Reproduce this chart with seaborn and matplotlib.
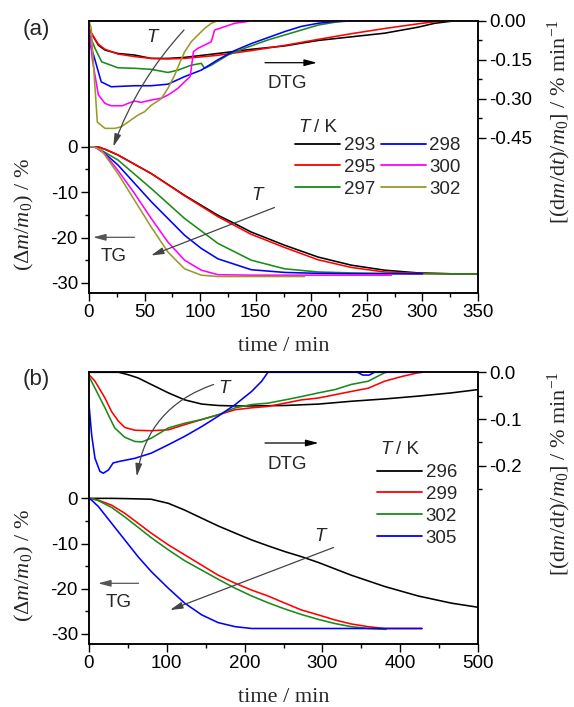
import numpy as np
import pandas as pd
import matplotlib
matplotlib.use("Agg")
import matplotlib.pyplot as plt
import seaborn as sns
from matplotlib.patches import FancyArrowPatch, ArrowStyle
from matplotlib.lines import Line2D
from matplotlib.ticker import FixedLocator, FormatStrFormatter, MultipleLocator

# ---------------- data : panel (a) ----------------
temps_a = ["293", "295", "297", "298", "300", "302"]
colors_a = ["#000000", "#ff0000", "#1a8a1a", "#0000ff", "#ff00ff", "#9a9a2a"]

# TG (a)
tg_a_t_293 = [0, 8, 15, 26, 56, 86, 116, 131, 146, 176, 206, 236, 266, 296, 326, 350]
tg_a_v_293 = [0, 0, -0.6, -1.8, -5.9, -10.7, -15.1, -16.9, -18.8, -21.7, -24.3, -26.1, -27.2, -27.8, -28.0, -28.0]
tg_a_t_295 = [0, 8, 15, 26, 56, 86, 116, 146, 176, 206, 236, 266, 296, 326, 350]
tg_a_v_295 = [0, 0, -0.6, -1.8, -5.9, -10.8, -15.4, -19.3, -22.2, -24.9, -26.6, -27.6, -27.9, -28.0, -28.0]
tg_a_t_297 = [0, 5, 12, 26, 56, 86, 116, 146, 176, 206, 236, 266, 296, 350]
tg_a_v_297 = [0, 0, -0.9, -2.9, -9.2, -15.8, -21.3, -25.0, -26.9, -27.6, -27.8, -27.9, -28.0, -28.0]
tg_a_t_298 = [0, 5, 12, 26, 56, 86, 101, 116, 146, 176, 206, 236, 300]
tg_a_v_298 = [0, 0, -1.0, -4.0, -12.1, -19.5, -22.4, -24.7, -27.1, -27.7, -27.9, -28.0, -28.0]
tg_a_t_300 = [0, 5, 14, 26, 41, 56, 71, 86, 101, 116, 146, 176, 272]
tg_a_v_300 = [0, 0, -1.5, -5.2, -10.3, -15.8, -21.0, -25.0, -27.2, -28.2, -28.3, -28.3, -28.3]
tg_a_t_302 = [0, 4, 11, 26, 41, 56, 71, 86, 101, 116, 146, 194]
tg_a_v_302 = [0, 0, -0.7, -5.9, -11.8, -17.7, -23.2, -26.9, -28.3, -28.6, -28.6, -28.6]

# DTG (a)
dtg_a_t_293 = [0, 2.4, 8.4, 14.4, 26, 41, 56, 71, 86, 116, 146, 176, 206, 236, 266, 296, 311, 326, 350]
dtg_a_v_293 = [-0.03, -0.05, -0.094, -0.113, -0.126, -0.132, -0.145, -0.145, -0.141, -0.126, -0.110, -0.097,
               -0.076, -0.062, -0.048, -0.025, -0.010, -0.002, 0.0]
dtg_a_t_295 = [0, 2.4, 8.4, 14.4, 26, 41, 56, 71, 86, 116, 146, 176, 206, 236, 266, 296, 311, 326, 350]
dtg_a_v_295 = [-0.03, -0.05, -0.09, -0.11, -0.128, -0.138, -0.145, -0.147, -0.145, -0.133, -0.115, -0.095,
               -0.072, -0.05, -0.03, -0.012, -0.004, 0.0, 0.0]
dtg_a_t_297 = [0, 5.4, 11.4, 26, 41, 56, 71, 80, 92, 101, 104, 110, 125, 140, 161, 176, 191, 206, 221, 236, 350]
dtg_a_v_297 = [-0.05, -0.106, -0.158, -0.181, -0.183, -0.187, -0.199, -0.19, -0.171, -0.164, -0.183, -0.171,
               -0.132, -0.106, -0.074, -0.055, -0.036, -0.017, -0.006, 0.0, 0.0]
dtg_a_t_298 = [0, 4, 11, 20, 41, 56, 71, 86, 101, 116, 131, 146, 161, 176, 191, 206, 221, 236, 300]
dtg_a_v_298 = [-0.08, -0.13, -0.235, -0.254, -0.25, -0.25, -0.244, -0.215, -0.19, -0.15, -0.115, -0.088,
               -0.065, -0.042, -0.022, -0.01, -0.003, 0.0, 0.0]
dtg_a_t_300 = [0, 3, 8.4, 14.4, 20, 30, 35, 41, 47, 56, 65, 71, 80, 86, 91, 94, 98, 104, 110, 113, 131, 146, 272]
dtg_a_v_300 = [-0.02, -0.15, -0.285, -0.318, -0.327, -0.327, -0.318, -0.309, -0.314, -0.305, -0.298, -0.286,
               -0.26, -0.235, -0.215, -0.119, -0.106, -0.094, -0.081, -0.036, -0.01, -0.001, 0.0]
dtg_a_t_302 = [0, 2, 4.5, 7.5, 14.4, 23, 29, 35, 44, 50, 56, 65, 71, 77, 82, 86, 92, 98, 104, 110, 116, 194]
dtg_a_v_302 = [0, -0.03, -0.2, -0.39, -0.414, -0.414, -0.408, -0.39, -0.363, -0.35, -0.325, -0.3, -0.26,
               -0.21, -0.158, -0.12, -0.081, -0.055, -0.03, -0.01, 0.0, 0.0]

# ---------------- data : panel (b) ----------------
temps_b = ["296", "299", "302", "305"]
colors_b = ["#000000", "#ff0000", "#1a8a1a", "#0000ff"]

tg_b_t_296 = [0, 30, 59, 80, 102, 123, 145, 166, 188, 209, 230, 252, 273, 295, 337, 380, 423, 466, 500]
tg_b_v_296 = [0, 0, -0.1, -0.2, -1.1, -2.6, -4.4, -6.1, -7.7, -9.2, -10.5, -11.8, -12.9, -14.2, -17.0,
              -19.5, -21.6, -23.2, -24.1]
tg_b_t_299 = [0, 5, 12, 29, 46, 63, 80, 102, 123, 145, 166, 188, 209, 230, 252, 273, 295, 316, 337, 359, 380, 428]
tg_b_v_299 = [0, -0.1, -0.4, -1.5, -3.3, -5.5, -7.7, -10.3, -12.5, -14.8, -17.0, -18.8, -20.3, -21.6,
              -23.2, -24.7, -25.8, -26.9, -27.8, -28.4, -28.8, -28.8]
tg_b_t_302 = [0, 5, 12, 29, 46, 63, 80, 102, 123, 145, 166, 188, 209, 230, 252, 273, 295, 316, 337, 359, 382]
tg_b_v_302 = [0, -0.15, -0.5, -2.0, -4.1, -6.4, -8.7, -11.4, -13.8, -15.9, -17.9, -19.9, -21.6, -23.1,
              -24.5, -25.7, -26.8, -27.7, -28.4, -28.8, -29.0]
tg_b_t_305 = [0, 3.4, 12, 29, 46, 63, 80, 102, 123, 145, 166, 188, 209, 230, 428]
tg_b_v_305 = [0, -0.4, -1.8, -5.5, -9.2, -12.9, -16.2, -19.9, -23.2, -25.8, -27.5, -28.4, -28.8, -28.8, -28.8]

dtg_b_t_296 = [0, 38, 50, 63, 80, 102, 123, 145, 166, 188, 209, 252, 295, 337, 380, 423, 466, 500]
dtg_b_v_296 = [0, 0, -0.005, -0.012, -0.026, -0.044, -0.059, -0.068, -0.071, -0.072, -0.072, -0.071,
               -0.068, -0.062, -0.057, -0.051, -0.044, -0.037]
dtg_b_t_299 = [0, 7.7, 20.5, 29, 38, 46, 59, 80, 102, 123, 145, 166, 188, 209, 230, 252, 273, 295, 316,
               337, 359, 380, 402, 423, 428]
dtg_b_v_299 = [-0.005, -0.019, -0.055, -0.084, -0.105, -0.118, -0.124, -0.125, -0.123, -0.112, -0.101,
               -0.091, -0.080, -0.076, -0.073, -0.066, -0.059, -0.055, -0.048, -0.041, -0.034, -0.019,
               -0.009, -0.001, 0.0]
dtg_b_t_302 = [0, 7.7, 20.5, 33, 46, 59, 68, 80, 102, 123, 145, 166, 188, 209, 230, 252, 273, 295, 316,
               337, 359, 367, 380, 382]
dtg_b_v_302 = [-0.009, -0.034, -0.076, -0.119, -0.139, -0.148, -0.149, -0.141, -0.119, -0.109, -0.101,
               -0.091, -0.076, -0.069, -0.066, -0.059, -0.052, -0.044, -0.037, -0.026, -0.019, -0.012,
               -0.001, 0.0]
dtg_b_t_305 = [0, 3.4, 7.7, 14, 18.4, 25, 31, 38, 59, 80, 102, 123, 145, 166, 188, 209, 222, 230, 345,
               352, 360, 367, 428]
dtg_b_v_305 = [-0.069, -0.134, -0.184, -0.212, -0.216, -0.209, -0.194, -0.191, -0.184, -0.173, -0.155,
               -0.137, -0.116, -0.094, -0.069, -0.041, -0.019, 0.0, 0.0, -0.006, -0.006, 0.0, 0.0]

tg_a = {"293": (tg_a_t_293, tg_a_v_293), "295": (tg_a_t_295, tg_a_v_295), "297": (tg_a_t_297, tg_a_v_297),
        "298": (tg_a_t_298, tg_a_v_298), "300": (tg_a_t_300, tg_a_v_300), "302": (tg_a_t_302, tg_a_v_302)}
dtg_a = {"293": (dtg_a_t_293, dtg_a_v_293), "295": (dtg_a_t_295, dtg_a_v_295), "297": (dtg_a_t_297, dtg_a_v_297),
         "298": (dtg_a_t_298, dtg_a_v_298), "300": (dtg_a_t_300, dtg_a_v_300), "302": (dtg_a_t_302, dtg_a_v_302)}
tg_b = {"296": (tg_b_t_296, tg_b_v_296), "299": (tg_b_t_299, tg_b_v_299), "302": (tg_b_t_302, tg_b_v_302),
        "305": (tg_b_t_305, tg_b_v_305)}
dtg_b = {"296": (dtg_b_t_296, dtg_b_v_296), "299": (dtg_b_t_299, dtg_b_v_299), "302": (dtg_b_t_302, dtg_b_v_302),
         "305": (dtg_b_t_305, dtg_b_v_305)}


def to_df(series):
    rows = []
    for k, (t, v) in series.items():
        for a, b in zip(t, v):
            rows.append((k, a, b))
    return pd.DataFrame(rows, columns=["T", "time", "value"])


# ---------------- style ----------------
sns.set_theme(style="ticks")
plt.rcParams.update({
    "font.family": ["Liberation Sans", "DejaVu Sans"],
    "mathtext.fontset": "custom",
    "mathtext.rm": "Liberation Serif",
    "mathtext.it": "Liberation Serif:italic",
    "mathtext.bf": "Liberation Serif:bold",
    "axes.unicode_minus": False,
    "axes.linewidth": 1.1,
    "axes.edgecolor": "black",
    "xtick.color": "black",
    "ytick.color": "black",
})

FS = 13.5
W, H = 574, 707
fig = plt.figure(figsize=(W / 100, H / 100), dpi=100)


def fx(x):
    return x / W


def fy(y):
    return 1 - y / H


def make_axes(top, bottom):
    left, right = 89, 478
    ax = fig.add_axes([fx(left), fy(bottom), (right - left) / W, (bottom - top) / H])
    ax2 = ax.twinx()
    return ax, ax2


def style_axes(ax, ax2):
    for a in (ax, ax2):
        a.tick_params(which="major", direction="out", length=6, width=1.0, labelsize=FS, pad=2)
        a.tick_params(which="minor", direction="out", length=3, width=1.0)
        for s in a.spines.values():
            s.set_visible(True)
            s.set_linewidth(1.1)
            s.set_color("black")
    ax.tick_params(axis="x", top=False, which="both")
    ax2.tick_params(axis="x", top=False, bottom=False, which="both")


def draw(ax, series, temps, colors):
    df = to_df(series)
    sns.lineplot(data=df, x="time", y="value", hue="T", hue_order=temps,
                 palette=dict(zip(temps, colors)), estimator=None, sort=False,
                 lw=1.15, legend=False, ax=ax)
    ax.set_xlabel("")
    ax.set_ylabel("")


def arrow(p1, p2, rad=0.0, color="#333333", lw=0.9, hl=0.95, hw=0.25):
    a = FancyArrowPatch(posA=(fx(p1[0]), fy(p1[1])), posB=(fx(p2[0]), fy(p2[1])),
                        transform=fig.transFigure,
                        arrowstyle=ArrowStyle("-|>", head_length=hl, head_width=hw),
                        mutation_scale=8, lw=lw, color=color,
                        connectionstyle=f"arc3,rad={rad}", shrinkA=0, shrinkB=0)
    fig.add_artist(a)


def txt(x, y, s, **kw):
    fig.text(fx(x), fy(y), s, ha="center", va="center", fontsize=FS, **kw)


serif = ["Liberation Serif", "DejaVu Serif"]

# ---------------- panel (a) ----------------
axA, axA2 = make_axes(20.7, 293.3)
draw(axA, tg_a, temps_a, colors_a)
draw(axA2, dtg_a, temps_a, colors_a)
style_axes(axA, axA2)
axA.set_xlim(0, 350)
axA.set_ylim(-32.3, 27.8)
axA2.set_ylim(-1.048, 0)
axA.xaxis.set_major_locator(MultipleLocator(50))
axA.xaxis.set_minor_locator(MultipleLocator(25))
axA.yaxis.set_major_locator(FixedLocator([-30, -20, -10, 0]))
axA.yaxis.set_minor_locator(FixedLocator([-25, -15, -5]))
axA.yaxis.set_major_formatter(FormatStrFormatter("%d"))
axA2.yaxis.set_major_locator(FixedLocator([-0.45, -0.30, -0.15, 0.0]))
axA2.yaxis.set_minor_locator(FixedLocator([-0.375, -0.225, -0.075]))
axA2.yaxis.set_major_formatter(FormatStrFormatter("%.2f"))

# ---------------- panel (b) ----------------
axB, axB2 = make_axes(372.3, 644.3)
draw(axB, tg_b, temps_b, colors_b)
draw(axB2, dtg_b, temps_b, colors_b)
style_axes(axB, axB2)
axB.set_xlim(0, 500)
axB.set_ylim(-32.3, 27.9)
axB2.set_ylim(-0.582, 0)
axB.xaxis.set_major_locator(MultipleLocator(100))
axB.xaxis.set_minor_locator(MultipleLocator(50))
axB.yaxis.set_major_locator(FixedLocator([-30, -20, -10, 0]))
axB.yaxis.set_minor_locator(FixedLocator([-25, -15, -5]))
axB.yaxis.set_major_formatter(FormatStrFormatter("%d"))
axB2.yaxis.set_major_locator(FixedLocator([-0.2, -0.1, 0.0]))
axB2.yaxis.set_minor_locator(FixedLocator([-0.25, -0.15, -0.05]))
axB2.yaxis.set_major_formatter(FormatStrFormatter("%.1f"))

# axis labels
for ax, ax2, ycen_r in ((axA, axA2, 0.628), (axB, axB2, 0.626)):
    ax.set_xlabel("time / min", fontfamily=serif, fontsize=16)
    ax.xaxis.set_label_coords(0.5, -0.16)
    ax.set_ylabel(r"$(\Delta m/m_0)$ / %", fontfamily=serif, fontsize=16)
    ax.yaxis.set_label_coords(-0.135, 0.29)
    ax2.set_ylabel(r"$[(\mathrm{d}m/\mathrm{d}t)/m_0]$ / % min$^{-1}$", fontfamily=serif, fontsize=16)
    ax2.yaxis.set_label_coords(1.175, ycen_r)

# panel letters
fig.text(fx(36), fy(29), "(a)", ha="center", va="center", fontsize=16)
fig.text(fx(36), fy(380), "(b)", ha="center", va="center", fontsize=16)

# ---------------- annotations (a) ----------------
txt(152, 38, "T", fontstyle="italic")
arrow((184, 30), (113.3, 146.7), rad=0.1, color="#444444")
txt(257, 195, "T", fontstyle="italic")
arrow((274.5, 207.5), (151, 255.5), color="#444444")
arrow((265, 62.7), (317, 62.7), color="black")
txt(287, 84, "DTG")
arrow((134.5, 237.3), (93, 237.3), color="#555555")
txt(114, 256, "TG")

# legend (a)
hA = [Line2D([], [], color=c, lw=1.3) for c in colors_a]
legA = fig.legend(hA, temps_a, loc="upper left", bbox_to_anchor=(fx(295), fy(137)), ncol=2,
                  frameon=False, fontsize=FS, handlelength=2.4, handletextpad=0.2, columnspacing=0.3,
                  labelspacing=0.25, borderpad=0, borderaxespad=0)
fig.text(fx(298), fy(127), "T", fontstyle="italic", fontsize=FS, ha="left", va="center")
fig.text(fx(314), fy(127), "/ K", fontsize=FS, ha="left", va="center")

# ---------------- annotations (b) ----------------
txt(224.5, 388.5, "T", fontstyle="italic")
arrow((213.5, 384.5), (136.7, 476.5), rad=0.3, color="#444444")
txt(320, 536.5, "T", fontstyle="italic")
arrow((333.5, 547.5), (170, 610), color="#444444")
arrow((265, 443), (318.5, 443), color="black")
txt(287.5, 464.5, "DTG")
arrow((138.5, 583.3), (98, 583.3), color="#555555")
txt(118.5, 602.5, "TG")

# legend (b)
hB = [Line2D([], [], color=c, lw=1.3) for c in colors_b]
legB = fig.legend(hB, temps_b, loc="upper left", bbox_to_anchor=(fx(377), fy(464)), ncol=1,
                  frameon=False, fontsize=FS, handlelength=2.4, handletextpad=0.2,
                  labelspacing=0.25, borderpad=0, borderaxespad=0)
fig.text(fx(380), fy(450), "T", fontstyle="italic", fontsize=FS, ha="left", va="center")
fig.text(fx(396), fy(450), "/ K", fontsize=FS, ha="left", va="center")

fig.savefig("out.png", dpi=100)
